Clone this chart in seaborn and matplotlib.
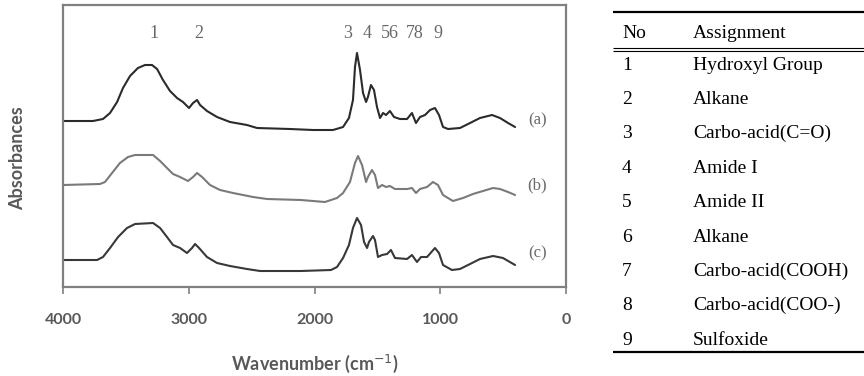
import matplotlib
matplotlib.use("Agg")
import matplotlib.pyplot as plt
import seaborn as sns
import pandas as pd

# ---- spectrum data (wavenumber cm^-1, stacked absorbance, arbitrary units) ----
wn_a = [4000, 3761, 3682, 3626, 3570, 3523, 3467, 3404, 3348, 3292, 3252, 3205, 3149,
        3093, 3046, 2998, 2966, 2934, 2910, 2855, 2775, 2672, 2537, 2457, 2195, 2012,
        1853, 1773, 1726, 1694, 1678, 1662, 1638, 1614, 1590, 1575, 1551, 1527, 1503,
        1479, 1455, 1431, 1400, 1368, 1320, 1264, 1225, 1193, 1161, 1121, 1081, 1042,
        1010, 978, 938, 843, 763, 684, 588, 525, 461, 405]
abs_a = [1.66, 1.66, 1.68, 1.74, 1.85, 1.99, 2.11, 2.19, 2.22, 2.22, 2.18, 2.07, 1.96,
         1.89, 1.85, 1.79, 1.84, 1.87, 1.82, 1.76, 1.70, 1.65, 1.62, 1.59, 1.58, 1.57,
         1.57, 1.60, 1.69, 1.87, 2.20, 2.34, 2.17, 1.94, 1.85, 1.90, 2.02, 1.97, 1.80,
         1.69, 1.74, 1.72, 1.76, 1.70, 1.68, 1.68, 1.74, 1.64, 1.70, 1.72, 1.77, 1.79,
         1.72, 1.60, 1.58, 1.59, 1.64, 1.69, 1.72, 1.69, 1.64, 1.60]

wn_b = [4000, 3706, 3666, 3610, 3547, 3483, 3427, 3284, 3228, 3173, 3125, 3069, 3006,
        2966, 2934, 2894, 2831, 2751, 2648, 2489, 2377, 2108, 2012, 1917, 1821, 1773,
        1718, 1678, 1654, 1622, 1590, 1575, 1543, 1519, 1495, 1463, 1431, 1400, 1360,
        1264, 1225, 1193, 1161, 1105, 1058, 1018, 978, 899, 819, 740, 660, 580, 525,
        461, 405]
abs_b = [1.02, 1.03, 1.05, 1.14, 1.24, 1.30, 1.32, 1.32, 1.26, 1.19, 1.13, 1.10, 1.06,
         1.10, 1.14, 1.10, 1.02, 0.97, 0.94, 0.90, 0.88, 0.87, 0.86, 0.85, 0.89, 0.94,
         1.05, 1.24, 1.31, 1.22, 1.05, 1.10, 1.17, 1.12, 0.99, 1.02, 1.00, 1.01, 0.98,
         0.98, 0.99, 0.94, 0.98, 1.00, 1.05, 1.02, 0.92, 0.86, 0.89, 0.93, 0.96, 0.99,
         0.98, 0.95, 0.92]

wn_c = [4000, 3729, 3682, 3626, 3562, 3491, 3427, 3284, 3228, 3173, 3125, 3069, 3014,
        2974, 2950, 2918, 2855, 2775, 2672, 2537, 2433, 2108, 1869, 1821, 1773, 1726,
        1694, 1662, 1630, 1606, 1582, 1567, 1535, 1519, 1495, 1463, 1423, 1392, 1360,
        1264, 1225, 1185, 1153, 1105, 1042, 1010, 978, 907, 843, 763, 684, 580, 501,
        405]
abs_c = [0.27, 0.27, 0.30, 0.39, 0.50, 0.59, 0.63, 0.64, 0.59, 0.50, 0.42, 0.39, 0.34,
         0.39, 0.43, 0.39, 0.30, 0.24, 0.21, 0.18, 0.16, 0.16, 0.17, 0.20, 0.29, 0.42,
         0.59, 0.69, 0.62, 0.45, 0.39, 0.45, 0.51, 0.47, 0.30, 0.32, 0.33, 0.37, 0.29,
         0.28, 0.32, 0.25, 0.30, 0.30, 0.39, 0.34, 0.22, 0.17, 0.18, 0.23, 0.28, 0.31,
         0.29, 0.22]

sample_names = ["(a)", "(b)", "(c)"]
sample_label_y = [1.67, 1.02, 0.34]

peak_labels = ["1", "2", "3", "4", "56", "78", "9"]
peak_wn = [3280, 2920, 1735, 1585, 1400, 1200, 1020]

x_ticks = [4000, 3000, 2000, 1000, 0]

table_no = ["1", "2", "3", "4", "5", "6", "7", "8", "9"]
table_assign = ["Hydroxyl Group", "Alkane", "Carbo-acid(C=O)", "Amide I", "Amide II",
                "Alkane", "Carbo-acid(COOH)", "Carbo-acid(COO-)", "Sulfoxide"]

# ---- build long table ----
frames = []
for name, w, a in zip(sample_names, [wn_a, wn_b, wn_c], [abs_a, abs_b, abs_c]):
    frames.append(pd.DataFrame({"wn": w, "absorbance": a, "sample": name}))
df = pd.concat(frames, ignore_index=True)

sns.set_theme(style="white")
plt.rcParams["font.family"] = ["Lato", "DejaVu Sans"]

fig = plt.figure(figsize=(8.64, 3.76), dpi=100)
ax = fig.add_axes([63 / 864, 1 - 287 / 376, (566 - 63) / 864, (287 - 5) / 376])

palette = {"(a)": "#2b2b2b", "(b)": "#7a7a7a", "(c)": "#383838"}
sns.lineplot(data=df, x="wn", y="absorbance", hue="sample", palette=palette,
             sort=False, estimator=None, legend=False, linewidth=1.5, ax=ax)

ax.set_xlim(4000, 0)
ax.set_ylim(0, 2.82)
ax.set_xticks(x_ticks)
ax.set_xticklabels([str(t) for t in x_ticks])
ax.set_yticks([])
ax.tick_params(axis="x", direction="out", length=5, width=1.2, color="#808080",
               pad=14, labelsize=11.5, labelcolor="#595959", bottom=True)
for lab in ax.get_xticklabels():
    lab.set_fontweight("bold")
for sp in ax.spines.values():
    sp.set_color("#808080")
    sp.set_linewidth(1.6)

ax.set_xlabel("Wavenumber (cm$^{-1}$)", fontsize=13, fontweight="bold",
              color="#595959", labelpad=18)
ax.set_ylabel("")
fig.text(18 / 864, 1 - 158 / 376, "Absorbances", rotation=90, ha="center",
         va="center", fontsize=13, fontweight="bold", color="#595959")

serif = ["Liberation Serif", "DejaVu Serif"]
for lab, w in zip(peak_labels, peak_wn):
    ax.text(w, 2.54, lab, ha="center", va="center", fontsize=13,
            color="#686868", family=serif)
for name, yv in zip(sample_names, sample_label_y):
    ax.text(230, yv, name, ha="center", va="center", fontsize=12,
            color="#6a6a6a", family=serif)

# ---- assignment table ----
tax = fig.add_axes([600 / 864, 0, 264 / 864, 1])
tax.set_xlim(0, 1)
tax.set_ylim(10.04, -0.89)
tax.axis("off")
x0, x1 = 0.049, 1.0
tax.plot([x0, x1], [-0.54, -0.54], color="black", lw=1.6, solid_capstyle="butt")
tax.plot([x0, x1], [0.50, 0.50], color="black", lw=0.8, solid_capstyle="butt")
tax.plot([x0, x1], [0.60, 0.60], color="black", lw=0.8, solid_capstyle="butt")
tax.plot([x0, x1], [9.34, 9.34], color="black", lw=1.6, solid_capstyle="butt")
tax.text(0.083, 0.07, "No", ha="left", va="center", fontsize=14,
         family=serif, color="black")
tax.text(0.352, 0.07, "Assignment", ha="left", va="center", fontsize=14,
         family=serif, color="black")
for i, (n, a) in enumerate(zip(table_no, table_assign), start=1):
    tax.text(0.083, i, n, ha="left", va="center", fontsize=14,
             family=serif, color="black")
    tax.text(0.352, i, a, ha="left", va="center", fontsize=14,
             family=serif, color="black")

fig.savefig("out.png", dpi=100)
